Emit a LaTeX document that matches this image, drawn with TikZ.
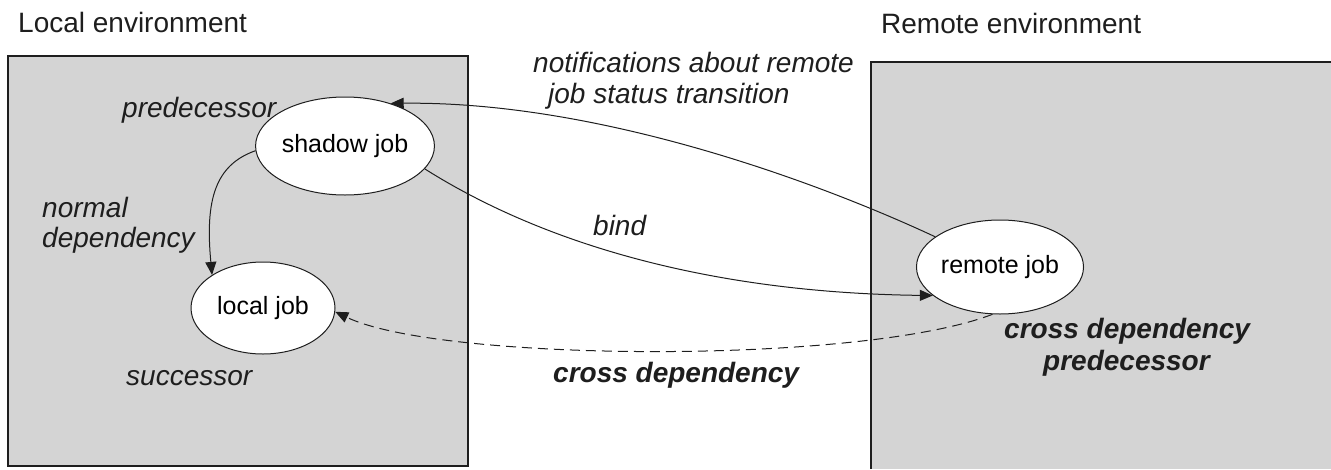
\documentclass[tikz,border=0pt]{standalone}
\usepackage{fontspec}
\setmainfont{Liberation Sans}
\usetikzlibrary{shapes.geometric,arrows.meta}

\definecolor{envgray}{RGB}{212,212,212}
\definecolor{inkgray}{RGB}{30,30,30}

\tikzset{
  envbox/.style={fill=envgray, draw=inkgray, line width=1.2pt},
  job/.style={ellipse, draw=inkgray, fill=white, line width=1pt, inner sep=0pt,
              font=\fontsize{25}{30}\selectfont},
  heading/.style={anchor=base west, inner sep=0pt, text=inkgray,
                  font=\fontsize{28}{33}\selectfont},
  note/.style={anchor=base west, inner sep=0pt, text=inkgray,
               font=\fontsize{28}{33}\selectfont\itshape},
  strongnote/.style={anchor=base west, inner sep=0pt, text=inkgray,
                     font=\fontsize{28}{33}\selectfont\bfseries\itshape},
  link/.style={draw=inkgray, line width=1pt,
               -{Triangle[length=13pt,width=11pt]}},
  dashedlink/.style={link, dash pattern=on 10pt off 6pt},
}

\begin{document}
\begin{tikzpicture}[x=1pt,y=-1pt]
\useasboundingbox (0,0) rectangle (1331,469);

% the two environments (the remote one runs on past the right and lower edges)
\path[envbox] (8,56) rectangle (468,466);
\fill[envgray] (871,62) rectangle (1331,469);
\draw[inkgray, line width=1.2pt] (871,469) -- (871,62) -- (1331,62);

\node[heading] (localtitle)  at (18,32)  {Local environment};
\node[heading] (remotetitle) at (881,33) {Remote environment};

% jobs
\node[job, minimum width=144pt, minimum height=98pt] (shadow) at (345,146) {shadow job};
\node[job, minimum width=144pt, minimum height=92pt] (local)  at (263,308) {local job};
\node[job, minimum width=142pt, minimum height=94pt] (remote) at (1000,267) {remote job};

% dependencies and messages
\draw[link] (remote.155) .. controls (820,183) and (600,101) .. (shadow.43);
\draw[link] (shadow.-16) .. controls (550,248) and (720,293) .. (remote.203);
\draw[link] (shadow.183) .. controls (215,165) and (205,200) .. (local.147);
\draw[dashedlink] (remote.261) .. controls (860,365) and (440,362) .. (local.-3);

% labels
\node[note] (lpred)  at (122,117) {predecessor};
\node[note] (lnorm1) at (42,217)  {normal};
\node[note] (lnorm2) at (42,247)  {dependency};
\node[note] (lsucc)  at (126,385) {successor};
\node[note] (lnote1) at (533,72)  {notifications about remote};
\node[note] (lnote2) at (548,103) {job status transition};
\node[note] (lbind)  at (593,235) {bind};
\node[strongnote] (lcross) at (553,382) {cross dependency};
\node[strongnote] (lxp1) at (1004,338) {cross dependency};
\node[strongnote] (lxp2) at (1043,370) {predecessor};
\end{tikzpicture}
\end{document}
